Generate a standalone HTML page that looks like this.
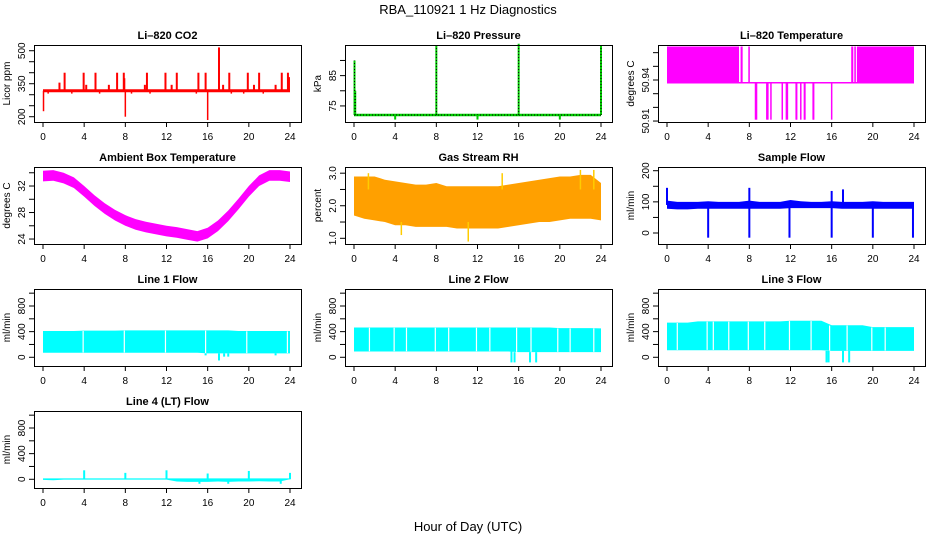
<!DOCTYPE html>
<html><head><meta charset="utf-8"><style>
html,body{margin:0;padding:0;background:#fff}
svg{display:block;font-family:"Liberation Sans",Arial,sans-serif}
</style></head><body>
<svg id="c" width="936" height="540" viewBox="0 0 936 540">
<text x="468" y="14" text-anchor="middle" font-size="13">RBA_110921  1 Hz Diagnostics</text>
<text x="468" y="531" text-anchor="middle" font-size="13">Hour of Day (UTC)</text>
</svg>
<script>
// ---- data ----
const hours = [0,1,2,3,4,5,6,7,8,9,10,11,12,13,14,15,16,17,18,19,20,21,22,23,24];
const xTicks = [0,4,8,12,16,20,24];
const co2Base = 318;
const co2SpikeHours = [2.1,3.95,5.1,7.2,7.85,10.1,11.9,13.0,15.1,15.8,17.1,18.1,19.9,21.0,23.2,23.8,1.6,4.2,6.4,7.9,9.9,12.5,17.5,20.5,22.6,23.9];
const co2SpikeValues = [400,400,400,400,400,400,400,400,400,400,515,400,400,400,400,400,355,345,345,375,345,345,345,345,345,380];
const co2DipHours = [0.05,8.0,16.0,0.5,2.8,5.5,8.6,10.4,14.9,18.3,19.5,21.4];
const co2DipValues = [225,200,185,305,305,305,305,305,305,305,305,305];
const presBase = 72;
const presSpikeHours = [0.05,0.12,8.0,16.0,24.0];
const presSpikeValues = [90,80,95,95.5,95];
const presDipHours = [4,12,20];
const presDipValues = [70.5,70.5,70.5];
const tempBase = 50.938;
const tempTop = 50.9645;
const tempBlocks = [[0,7.0],[7.15,7.35],[7.9,8.05],[17.9,18.1],[18.2,18.35],[18.45,24]];
const tempDropHours = [8.6,8.7,9.7,9.8,10.1,11.2,11.6,11.7,12.55,12.6,13.0,13.35,13.4,14.2,14.25,16.0];
const tempDropValue = 50.911;
const ambCenter = [33.5,33.6,33.2,32.5,31.2,29.8,28.6,27.6,26.8,26.2,25.8,25.5,25.2,25.0,24.7,24.4,24.9,26.0,27.5,29.3,31.2,32.8,33.6,33.6,33.4];
const rhHi = [2.9,2.9,2.9,2.8,2.75,2.7,2.65,2.65,2.7,2.6,2.6,2.6,2.6,2.6,2.6,2.65,2.7,2.75,2.8,2.85,2.9,2.9,2.95,2.95,2.7];
const rhLo = [1.7,1.6,1.55,1.5,1.4,1.4,1.35,1.35,1.35,1.35,1.3,1.3,1.3,1.3,1.3,1.35,1.4,1.45,1.5,1.5,1.55,1.6,1.6,1.6,1.55];
const rhOutHours = [4.6,11.1,14.4,22.0,23.3,1.4];
const rhOutValues = [1.1,0.9,3.0,3.1,3.1,3.0];
const sfHi = [104,100,100,100,102,100,100,100,104,100,100,100,106,102,100,100,102,100,100,100,102,100,100,100,100];
const sfLo = [78,76,76,78,78,78,78,78,78,78,78,78,80,80,80,80,80,78,78,78,78,78,78,78,78];
const sfSpikeHours = [0,8,16,17.1,4,8,11.9,16,20,23.9];
const sfSpikeValues = [145,145,135,140,-15,-15,-15,-15,-15,-15];
const l1Hi = [410,410,410,410,415,415,415,415,420,420,420,420,420,420,420,420,420,420,420,410,410,410,410,410,410];
const l1Lo = [70,70,70,70,70,70,70,70,70,70,70,70,70,70,70,70,60,60,60,60,60,60,60,60,60];
const l1Gaps = [3.9,7.9,11.9,15.8,19.8,23.75];
const l1DipHours = [15.8,17.1,17.6,18.0,22.6];
const l1DipValues = [30,-50,10,10,30];
const l2Hi = [465,465,465,465,465,465,465,465,465,465,465,465,465,465,465,465,465,465,465,465,455,455,455,455,450];
const l2Lo = [90,90,90,90,90,90,90,90,90,90,90,90,90,90,90,90,80,80,80,80,80,80,80,80,80];
const l2Gaps = [1.5,3.9,5.1,7.9,9.2,11.9,13.2,15.8,17.2,19.8,21.0,23.3];
const l2DipHours = [15.3,15.6,17.1,17.7];
const l2DipValues = [-80,-80,-80,-80];
const l3Hi = [540,540,540,560,560,560,560,560,560,560,560,560,570,570,570,570,500,500,500,500,470,470,470,470,470];
const l3Lo = [110,110,110,110,110,110,110,110,110,110,110,110,110,110,110,110,100,100,100,100,100,100,100,100,100];
const l3Gaps = [1.0,3.9,4.5,6.0,7.9,9.5,11.9,14.0,15.8,17.5,19.9,21.2];
const l3DipHours = [15.5,15.7,17.1,17.7];
const l3DipValues = [-80,-80,-80,-80];
const l4Hi = [15,15,15,15,15,15,15,15,15,15,15,15,15,15,15,15,15,15,15,15,15,15,15,15,15];
const l4Lo = [-10,-15,-5,-5,-5,-5,-5,-5,-5,-5,-5,-5,-5,-35,-40,-40,-40,-35,-40,-35,-35,-30,-35,-35,0];
const l4SpikeHours = [4,8,12,16,20,24,15.2,18.0,23.1];
const l4SpikeValues = [140,100,140,90,130,100,-70,-70,-70];

// ---- layout ----
const NS = "http://www.w3.org/2000/svg";
const svg = document.getElementById('c');
const colL = [34,345,658], rowT = [45,167,289,411], W = 267, H = 77;
function mk(tag, attrs, parent){ const e=document.createElementNS(NS,tag); for(const k in attrs) e.setAttribute(k,attrs[k]); (parent||svg).appendChild(e); return e; }

function panel(col,row,title,ylab,ymin,ymax,yticks,ylabels,name){
  const g = mk('g',{});
  
  
  const L=colL[col], T=rowT[row];
  const xs = h => L+9+h*247/24;
  const ys = v => T+(ymax-v)/(ymax-ymin)*H;
  const t = mk('text',{x:L+W/2,y:T-6,'text-anchor':'middle','font-size':11,'font-weight':'bold'},g);
  t.textContent = title;
  
  
  const yl = mk('text',{x:0,y:0,'text-anchor':'middle','font-size':10,transform:`translate(${L-24},${T+H/2}) rotate(-90)`},g);
  yl.textContent = ylab;
  
  
  const plot = mk('g',{},g);
  
  
  const ax = mk('g',{stroke:'#000','stroke-width':1},g);
  xTicks.forEach(h=>{
    mk('line',{x1:xs(h),x2:xs(h),y1:T+H,y2:T+H+5},ax);
    const tl = mk('text',{x:xs(h),y:T+H+18,'text-anchor':'middle','font-size':10,stroke:'none'},g);
    tl.textContent = h;
    
    
  });
  yticks.forEach(v=>{
    mk('line',{x1:L-5,x2:L,y1:ys(v),y2:ys(v)},ax);
  });
  ylabels.forEach(v=>{
    const tl = mk('text',{x:0,y:0,'text-anchor':'middle','font-size':10,transform:`translate(${L-9},${ys(v)}) rotate(-90)`},g);
    tl.textContent = v;
    
    
  });
  const box = mk('rect',{x:L+0.5,y:T+0.5,width:W,height:H,fill:'none',stroke:'#000'},g);
  
  
  return {xs,ys,plot};
}
function vline(p,h,v1,v2,color,w){ return mk('line',{x1:p.xs(h),x2:p.xs(h),y1:p.ys(v1),y2:p.ys(v2),stroke:color,'stroke-width':w||1.2},p.plot); }
function band(p,lo,hi,fill){
  let pts=[]; hours.forEach((h,i)=>pts.push(p.xs(h)+','+p.ys(hi[i])));
  for(let i=hours.length-1;i>=0;i--) pts.push(p.xs(hours[i])+','+p.ys(lo[i]));
  const e = mk('polygon',{points:pts.join(' '),fill:fill},p.plot);
  
  
  return e;
}

// CO2
let p = panel(0,0,'Li\u2013820 CO2','Licor ppm',176,526,[200,250,300,350,400,450,500],[200,350,500],'co2');
co2SpikeHours.forEach((h,i)=>vline(p,h,co2Base,co2SpikeValues[i],'#ff0000',2));
co2DipHours.forEach((h,i)=>vline(p,h,co2Base,co2DipValues[i],'#ff0000',1.5));
mk('line',{x1:p.xs(0),x2:p.xs(24),y1:p.ys(co2Base),y2:p.ys(co2Base),stroke:'#ff0000','stroke-width':3},p.plot);

// Pressure
p = panel(1,0,'Li\u2013820 Pressure','kPa',69.7,95.1,[75,80,85,90],[75,85],'pressure');
mk('line',{x1:p.xs(0),x2:p.xs(24),y1:p.ys(presBase),y2:p.ys(presBase),stroke:'#00cc00','stroke-width':2.5},p.plot);
mk('line',{x1:p.xs(0),x2:p.xs(24),y1:p.ys(presBase),y2:p.ys(presBase),stroke:'#000','stroke-width':1,'stroke-dasharray':'1 2'},p.plot);
presSpikeHours.forEach((h,i)=>{vline(p,h,presBase,presSpikeValues[i],'#00cc00',2); vline(p,h,presBase,presSpikeValues[i],'#000',1).setAttribute('stroke-dasharray','1 2');});
presDipHours.forEach((h,i)=>vline(p,h,presBase,presDipValues[i],'#00cc00',2));

// Li-820 Temperature
p = panel(2,0,'Li\u2013820 Temperature','degrees C',50.9093,50.9656,[50.91,50.92,50.93,50.94,50.95,50.96],['50.91','50.94'],'li820-temp');
tempBlocks.forEach(b=>{ mk('rect',{x:p.xs(b[0]),y:p.ys(tempTop),width:p.xs(b[1])-p.xs(b[0]),height:p.ys(tempBase)-p.ys(tempTop),fill:'#ff00ff'},p.plot); });
mk('line',{x1:p.xs(0),x2:p.xs(24),y1:p.ys(tempBase),y2:p.ys(tempBase),stroke:'#ff00ff','stroke-width':1.5},p.plot);
tempDropHours.forEach(h=>vline(p,h,tempBase,tempDropValue,'#ff00ff',1.5));

// Ambient
p = panel(0,1,'Ambient Box Temperature','degrees C',23.25,34.87,[24,26,28,30,32,34],[24,28,32],'ambient-temp');
band(p,ambCenter.map(v=>v-0.8),ambCenter.map(v=>v+0.8),'#ff00ff');

// RH
p = panel(1,1,'Gas Stream RH','percent',0.825,3.19,[1.0,1.5,2.0,2.5,3.0],['1.0','2.0','3.0'],'rh');
band(p,rhLo,rhHi,'#ffa000');
rhOutHours.forEach((h,i)=>vline(p,h,rhOutValues[i]>2?2.5:1.5,rhOutValues[i],'#ffcc00',1.5));

// Sample flow
p = panel(2,1,'Sample Flow','ml/min',-35.3,211.9,[0,50,100,150,200],[0,100,200],'sample-flow');
band(p,sfLo,sfHi,'#0000ff');
sfSpikeHours.forEach((h,i)=>vline(p,h,90,sfSpikeValues[i],'#0000ff',2));

const lt=[0,200,400,600,800,1000], ll=[0,400,800];
function lineFlow(col,row,title,name,lo,hi,gaps,dh,dv){
  const q = panel(col,row,title,'ml/min',-136,1065,lt,ll,name);
  band(q,lo,hi,'#00ffff');
  gaps.forEach(h=>vline(q,h,hi[Math.round(h)]-5,lo[Math.round(h)]+5,'#ffffff',1.2));
  dh.forEach((h,i)=>vline(q,h,lo[Math.round(h)],dv[i],'#00ffff',2));
  return q;
}
lineFlow(0,2,'Line 1 Flow','line1-flow',l1Lo,l1Hi,l1Gaps,l1DipHours,l1DipValues);
lineFlow(1,2,'Line 2 Flow','line2-flow',l2Lo,l2Hi,l2Gaps,l2DipHours,l2DipValues);
lineFlow(2,2,'Line 3 Flow','line3-flow',l3Lo,l3Hi,l3Gaps,l3DipHours,l3DipValues);
p = lineFlow(0,3,'Line 4 (LT) Flow','line4-flow',l4Lo,l4Hi,[],[],[]);
l4SpikeHours.forEach((h,i)=>vline(p,h,0,l4SpikeValues[i],'#00ffff',2));
</script>
</body></html>
